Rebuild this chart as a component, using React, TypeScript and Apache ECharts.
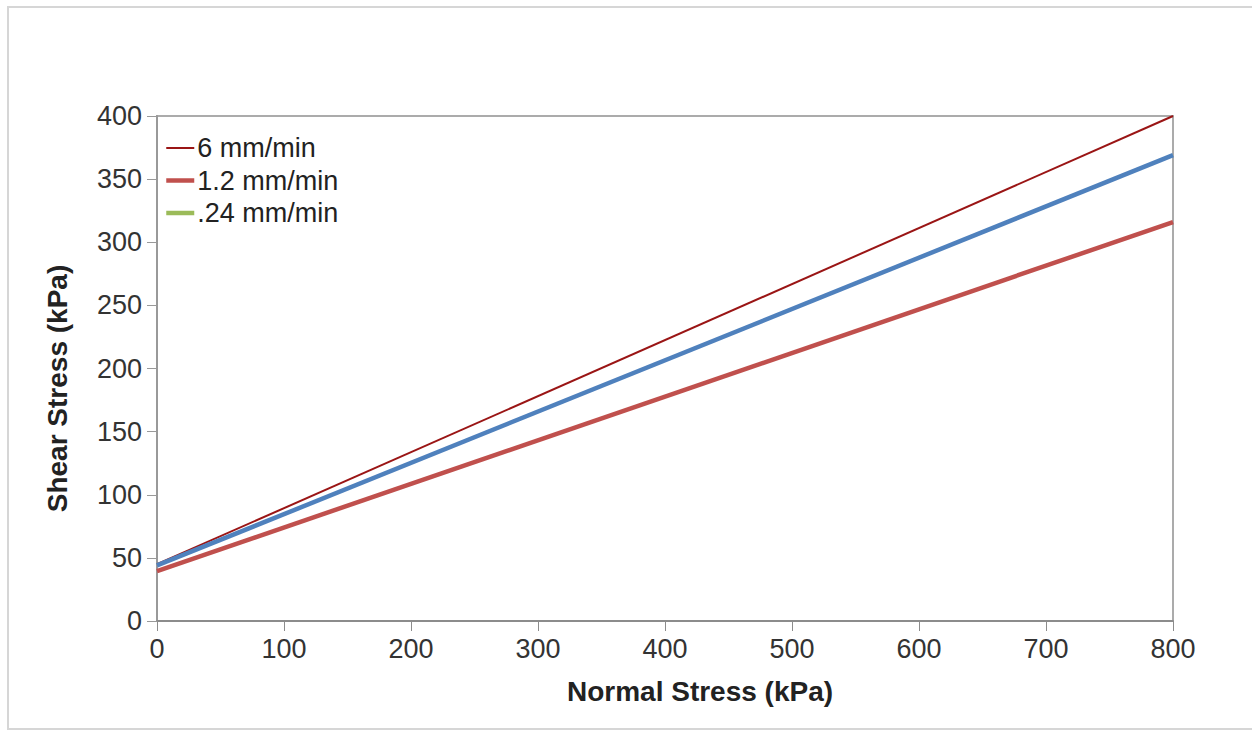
import React, { useEffect, useRef } from "react";
import * as echarts from "echarts";

const seriesNames = ["6 mm/min", "1.2 mm/min", ".24 mm/min", "series4"];
const normalStress = [0, 800];
const shear6 = [45, 400];
const shear12 = [39.5, 316];
const shear024: number[] = [];
const shear4 = [44, 369];
const xTicks = [0, 100, 200, 300, 400, 500, 600, 700, 800];
const yTicks = [0, 50, 100, 150, 200, 250, 300, 350, 400];
const lineWidths = [2, 4.5, 4.5, 4.5];

const FONT = "'Liberation Sans', Arial, sans-serif";

function pairs(ys: number[]) {
  return ys.map((y, i) => [normalStress[i], y]);
}

export default function App() {
  const ref = useRef<HTMLDivElement>(null);
  useEffect(() => {
    if (!ref.current) return;
    const chart = echarts.init(ref.current, undefined, { renderer: "svg" });
    chart.setOption({
      animation: false,
      backgroundColor: "#ffffff",
      graphic: [
        {
          type: "rect",
          shape: { x: 8, y: 7, width: 1262, height: 722 },
          style: { fill: "none", stroke: "#d6d6d6", lineWidth: 2 },
          silent: true,
        },
      ],
      grid: {
        left: 157,
        top: 116,
        width: 1016,
        height: 505,
        show: true,
        borderColor: "#ababab",
        borderWidth: 2,
        containLabel: false,
      },
      legend: {
        orient: "vertical",
        left: 164,
        top: 134,
        itemWidth: 28,
        itemHeight: 14,
        itemGap: 4.5,
        data: seriesNames.slice(0, 3).map((n, i) => ({ name: n, lineStyle: { width: lineWidths[i] } })),
        itemStyle: { opacity: 0 },
        textStyle: {
          fontFamily: FONT,
          fontSize: 27,
          color: "#222",
          lineHeight: 28,
          padding: [0, 0, 0, -2],
        },
        padding: 0,
      },
      xAxis: {
        type: "value",
        min: xTicks[0],
        max: xTicks[xTicks.length - 1],
        interval: 100,
        name: "Normal Stress (kPa)",
        nameLocation: "middle",
        nameGap: 56,
        nameTextStyle: {
          fontFamily: FONT,
          fontSize: 28,
          fontWeight: "bold",
          color: "#222",
          verticalAlign: "top",
          padding: [0, 0, 0, 70],
        },
        axisLine: { show: true, lineStyle: { color: "#8c8c8c", width: 2 } },
        axisTick: { show: true, length: 10, lineStyle: { color: "#8c8c8c", width: 1 } },
        axisLabel: { fontFamily: FONT, fontSize: 27, color: "#333", margin: 14 },
        splitLine: { show: false },
      },
      yAxis: {
        type: "value",
        min: yTicks[0],
        max: yTicks[yTicks.length - 1],
        interval: 50,
        name: "Shear Stress (kPa)",
        nameLocation: "middle",
        nameGap: 86,
        nameTextStyle: {
          fontFamily: FONT,
          fontSize: 28,
          fontWeight: "bold",
          color: "#222",
          padding: [0, 40, 0, 0],
        },
        axisLine: { show: true, lineStyle: { color: "#999999", width: 2 } },
        axisTick: { show: true, length: 10, lineStyle: { color: "#999999", width: 1 } },
        axisLabel: { fontFamily: FONT, fontSize: 27, color: "#333", margin: 15 },
        splitLine: { show: false },
      },
      series: [
        {
          name: seriesNames[0],
          type: "line",
          data: pairs(shear6),
          symbol: "none",
          lineStyle: { color: "#9a1515", width: lineWidths[0] },
          itemStyle: { color: "#9a1515" },
          z: 2,
        },
        {
          name: seriesNames[1],
          type: "line",
          data: pairs(shear12),
          symbol: "none",
          lineStyle: { color: "#c0504d", width: lineWidths[1] },
          itemStyle: { color: "#c0504d" },
          z: 3,
        },
        {
          name: seriesNames[2],
          type: "line",
          data: shear024,
          symbol: "none",
          lineStyle: { color: "#9bbb59", width: lineWidths[2] },
          itemStyle: { color: "#9bbb59" },
          z: 3,
        },
        {
          name: seriesNames[3],
          type: "line",
          data: pairs(shear4),
          symbol: "none",
          lineStyle: { color: "#4f81bd", width: lineWidths[3] },
          itemStyle: { color: "#4f81bd" },
          z: 4,
        },
      ],
    });
    return () => chart.dispose();
  }, []);
  return (
    <div
      ref={ref}
      style={{ position: "fixed", left: 0, top: 0, width: 1252, height: 731, background: "#fff" }}
    />
  );
}
